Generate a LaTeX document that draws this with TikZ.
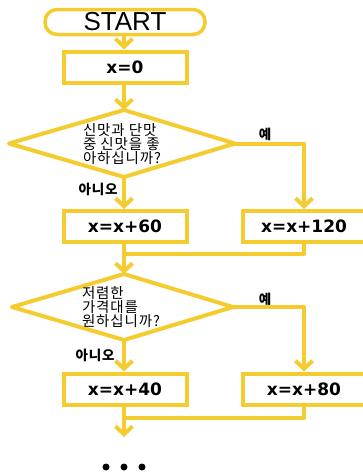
\documentclass[tikz,border=0pt]{standalone}
\usepackage{fontspec}
\setmainfont{Liberation Sans}
\newfontfamily\boxfont{DejaVu Sans}
\newfontfamily\kr[LetterSpace=6]{Noto Sans CJK KR}
\usetikzlibrary{arrows.meta}
\definecolor{flowyellow}{RGB}{245,204,48}
\tikzset{
  flowline/.style={draw=flowyellow, line width=4pt, line join=round},
  flowarrow/.style={flowline, -{Straight Barb[length=8pt,width=17pt,line width=4pt]}},
  procbox/.style={draw=flowyellow, line width=4pt, rectangle, inner sep=0pt,
    minimum width=123pt, minimum height=31pt,
    font=\boxfont\bfseries\fontsize{17}{17}\selectfont},
  decision/.style={draw=flowyellow, line width=4pt, line join=round},
  question/.style={align=left, inner sep=0pt,
    font=\kr\fontsize{14.5}{12.8}\selectfont},
  terminal/.style={draw=flowyellow, line width=3.5pt, rectangle,
    rounded corners=12pt, inner sep=0pt, minimum width=160pt, minimum height=25pt,
    font=\fontsize{26}{26}\selectfont},
  answer/.style={font=\kr\bfseries\fontsize{13.5}{13.5}\selectfont, inner sep=0pt}
}
\begin{document}
\begin{tikzpicture}[x=1pt, y=-1pt]
  \useasboundingbox (0,0) rectangle (363,475);

  % decision corners
  \coordinate (d1n) at (124,110);
  \coordinate (d1e) at (235,143.5);
  \coordinate (d1s) at (124,177);
  \coordinate (d1w) at (9,143.5);
  \coordinate (d2n) at (124,274);
  \coordinate (d2e) at (233,307);
  \coordinate (d2s) at (124,340);
  \coordinate (d2w) at (12,307);

  % shapes
  \node[terminal] (start) at (125,22) {START};
  \node[procbox] (b0) at (125,67) {x=0};
  \draw[decision] (d1n) -- (d1e) -- (d1s) -- (d1w) -- cycle;
  \node[question] (q1) at (122,144) {신맛과 단맛\\중 신맛을 좋\\아하십니까?};
  \node[procbox] (b60) at (125,226.5) {x=x+60};
  \node[procbox] (b120) at (304,226.5) {x=x+120};
  \draw[decision] (d2n) -- (d2e) -- (d2s) -- (d2w) -- cycle;
  \node[question] (q2) at (121,307) {저렴한\\가격대를\\원하십니까?};
  \node[procbox] (b40) at (125,389) {x=x+40};
  \node[procbox] (b80) at (304,389) {x=x+80};

  % branch labels
  \node[answer] (y1) at (265,134) {예};
  \node[answer] (n1) at (98,189) {아니오};
  \node[answer] (y2) at (265,299) {예};
  \node[answer] (n2) at (95,355) {아니오};

  % merge points and loose end
  \coordinate (m1) at (124,254);
  \coordinate (m2) at (124,418);
  \coordinate (tail) at (124,437);

  % connectors
  \draw[flowarrow] (start.south -| d1n) -- (b0.north -| d1n);
  \draw[flowarrow] (b0.south -| d1n) -- (d1n);
  \draw[flowarrow] (d1s) -- (b60.north -| d1s);
  \draw[flowarrow] (d1e) -| (b120.north);
  \draw[flowline] (b120.south) |- (m1);
  \draw[flowarrow] (b60.south -| d2n) -- (d2n);
  \draw[flowarrow] (d2s) -- (b40.north -| d2s);
  \draw[flowarrow] (d2e) -| (b80.north);
  \draw[flowline] (b80.south) |- (m2);
  \draw[flowarrow] (b40.south -| tail) -- (tail);

  % continuation dots
  \foreach \xx in {106,124,142}
    \fill (\xx,467) circle (3.5pt);
\end{tikzpicture}
\end{document}
